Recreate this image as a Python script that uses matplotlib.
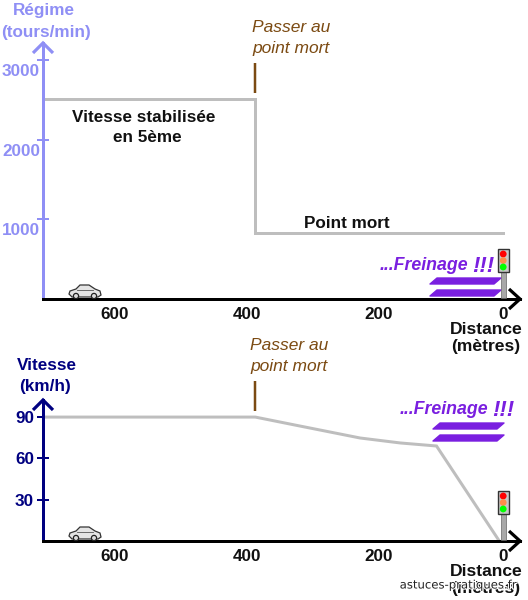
import matplotlib
matplotlib.use("Agg")
import matplotlib.pyplot as plt
import matplotlib.patheffects as pe
from matplotlib.patches import Polygon, Circle, Rectangle
from matplotlib.transforms import ScaledTranslation

plt.rcParams['font.family'] = ['Liberation Sans', 'DejaVu Sans']

# data
dist_ticks = [600, 396, 192, 0]
dist_labels = ['600', '400', '200', '0']

regime_ticks = [1000, 2000, 3000]
regime_dist = [711, 383, 383, 0]
regime_vals = [2520, 2520, 830, 830]

vitesse_ticks = [30, 60, 90]
vitesse_dist = [711, 383, 314, 221, 159, 103, 6]
vitesse_vals = [90, 90, 83.5, 74.8, 71.2, 69, 0]

W, H = 528, 600
fig = plt.figure(figsize=(W / 100, H / 100), dpi=100)

LIGHT = '#8F8FF5'
NAVY = '#000080'
GREY = '#BEBEBE'
BROWN = '#7B4A12'
PURPLE = '#7A1FE0'
INK = '#111111'
PX = 0.72  # one pixel in points
BIG = 12.3


def make_axes(top, bottom, ymax, color, ticks, values_x, values_y):
    ax = fig.add_axes([43 / W, 1 - bottom / H, (520 - 43) / W, (bottom - top) / H])
    ax.patch.set_alpha(0)
    ax.set_xlim(711, -26)
    ax.set_ylim(0, ymax)
    ax.plot(values_x, values_y, color=GREY, lw=3 * PX, solid_joinstyle='miter', zorder=2)
    for s in ['top', 'right']:
        ax.spines[s].set_visible(False)
    ax.spines['left'].set_color(color)
    ax.spines['left'].set_linewidth(3 * PX)
    ax.spines['bottom'].set_color('black')
    ax.spines['bottom'].set_linewidth(3 * PX)
    ax.set_xticks(dist_ticks)
    ax.set_xticklabels(dist_labels, fontsize=BIG, fontweight='bold', color=INK)
    ax.tick_params(axis='x', length=0, pad=6)
    ax.set_yticks(ticks)
    ax.set_yticklabels([str(t) for t in ticks], fontsize=BIG, fontweight='bold', color=color)
    ax.tick_params(axis='y', direction='inout', length=12 * PX, width=2 * PX, color=color)
    return ax


ax1 = make_axes(43, 299, 3220, LIGHT, regime_ticks, regime_dist, regime_vals)
ax1.tick_params(axis='y', pad=-3 * PX)
# the rpm numbers sit just under their ticks
down = ScaledTranslation(0, -10 / 100, fig.dpi_scale_trans)
for lab in ax1.get_yticklabels():
    lab.set_transform(lab.get_transform() + down)

ax2 = make_axes(400, 541, 102.4, NAVY, vitesse_ticks, vitesse_dist, vitesse_vals)
ax2.tick_params(axis='y', pad=3 * PX)

# overlay in pixel coordinates for the drawn notes
ov = fig.add_axes([0, 0, 1, 1], zorder=5)
ov.set_xlim(0, W)
ov.set_ylim(H, 0)
ov.axis('off')
ov.patch.set_alpha(0)


def chevron(pts, color):
    ov.plot([p[0] for p in pts], [p[1] for p in pts], color=color, lw=3.2 * PX,
            solid_joinstyle='miter', solid_capstyle='butt')


def car(x, y):
    body = [(x, y + 9), (x + 1, y + 6), (x + 7, y + 4), (x + 11, y), (x + 20, y), (x + 26, y + 4),
            (x + 31, y + 6), (x + 32, y + 10), (x + 29, y + 12), (x + 3, y + 12)]
    ov.add_patch(Polygon(body, closed=True, fc='#E4E4E4', ec='#333333', lw=0.9))
    ov.plot([x + 8, x + 24], [y + 4.5, y + 4.5], color='#555555', lw=0.6)
    for cx in (x + 7, x + 25):
        ov.add_patch(Circle((cx, y + 11), 2.6, fc='#DDDDDD', ec='#222222', lw=0.9))


def light(x0, y0, y_end):
    ov.add_patch(Rectangle((x0 + 3, y0 + 23), 5, y_end - y0 - 23, fc='#A8A8A8', ec='#666666', lw=0.5))
    ov.add_patch(Rectangle((x0, y0), 10.5, 23, fc='#C8C8C8', ec='#333333', lw=1))
    for dy, c in zip((5, 11.5, 18), ('#FF0000', '#FF8C4A', '#00FF00')):
        ov.add_patch(Circle((x0 + 5.2, y0 + dy), 3.4, fc=c, ec='none'))


def bar(x0, x1, y0, y1):
    s = 7
    ov.add_patch(Polygon([(x0 + s, y0), (x1, y0), (x1 - s, y1), (x0, y1)], closed=True,
                         fc=PURPLE, ec=PURPLE, lw=1, joinstyle='round'))


def note(x, y, s, color=INK, size=BIG, **kw):
    ov.text(x, y, s, ha='center', va='center', fontsize=size, color=color, **kw)


# axis arrows
chevron([(33, 53), (43, 43), (53, 53)], LIGHT)
chevron([(33, 410), (43, 400), (53, 410)], NAVY)
chevron([(509, 289), (520, 299), (509, 309)], 'black')
chevron([(509, 531), (520, 541), (509, 551)], 'black')

# top panel text
note(44, 11, 'Régime', LIGHT, fontweight='bold')
note(46, 32, '(tours/min)', LIGHT, fontweight='bold')
note(144, 117, 'Vitesse stabilisée', fontweight='bold')
note(147, 137, 'en 5ème', fontweight='bold')
note(347, 223, 'Point mort', fontweight='bold')
note(291, 27, 'Passer au', BROWN, 12.5, style='italic')
note(291, 48, 'point mort', BROWN, 12.5, style='italic')
ov.plot([255, 255], [63, 93], color=BROWN, lw=2.5 * PX, solid_capstyle='butt')
note(424, 266, '...Freinage', PURPLE, 12.8, style='italic', fontweight='bold')
note(483, 267, '!!!', PURPLE, 16, style='italic', fontweight='bold')
bar(430, 501, 278, 284)
bar(430, 501, 290, 296)
light(498, 249, 298)
car(69, 285)
note(486, 329, 'Distance', size=12.6, fontweight='bold')
note(486, 346, '(mètres)', size=12.6, fontweight='bold')

# bottom panel text
note(46.5, 366, 'Vitesse', NAVY, fontweight='bold')
note(45, 386, '(km/h)', NAVY, fontweight='bold')
note(289, 345, 'Passer au', BROWN, 12.5, style='italic')
note(289, 366, 'point mort', BROWN, 12.5, style='italic')
ov.plot([255, 255], [381, 411], color=BROWN, lw=2.5 * PX, solid_capstyle='butt')
note(444, 410, '...Freinage', PURPLE, 12.8, style='italic', fontweight='bold')
note(503, 411, '!!!', PURPLE, 16, style='italic', fontweight='bold')
bar(433, 504, 423, 429)
bar(433, 504, 435, 441)
light(498, 491, 540)
car(69, 527)
note(486, 571, 'Distance', size=12.6, fontweight='bold')
note(486, 588, '(mètres)', size=12.6, fontweight='bold')

# watermark over the label
wm = ov.text(458, 585, 'astuces-pratiques.fr', ha='center', va='center', fontsize=8.4,
             family='DejaVu Sans', color='#222222')
wm.set_path_effects([pe.withStroke(linewidth=1.5, foreground='white')])

fig.savefig('out.png', dpi=100)
